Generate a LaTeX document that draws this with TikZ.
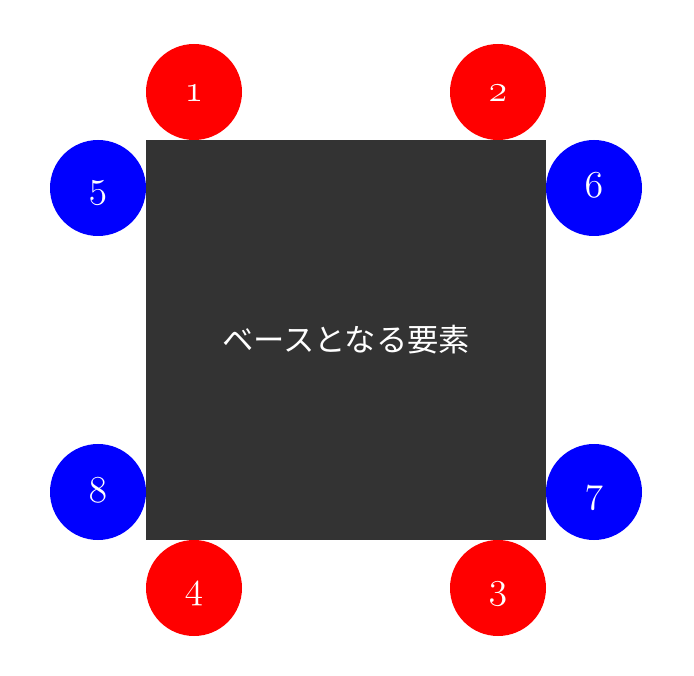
\RequirePackage{fix-cm}
\documentclass[tikz,border=0pt]{standalone}
\usepackage{fontspec}
\newfontfamily\jpfont{Noto Sans CJK JP}
\definecolor{basegray}{HTML}{333333}
\newcommand\ziffer[1]{{\fontencoding{OML}\fontfamily{cmm}\fontseries{m}\fontshape{it}\selectfont #1}}

\begin{document}
\begin{tikzpicture}[x=1pt, y=-1pt,
		marker/.style={circle, minimum size=96pt, inner sep=0pt, text=white,
			text height=20pt, text depth=0pt, font=\fontsize{38}{38}\selectfont},
		ecke/.style={marker, fill=red},
		seite/.style={marker, fill=blue}]
	\useasboundingbox (0,0) rectangle (694,676);

	% Basiselement
	\node[fill=basegray, minimum size=400pt, inner sep=0pt, text=white,
		font=\jpfont\fontsize{31.3}{31.3}\selectfont] (base) at (346,340) {ベースとなる要素};

	% rote Kreise (oben/unten)
	\node[ecke] (m1) at (194,92) {\ziffer{1}};
	\node[ecke] (m2) at (498,92) {\ziffer{2}};
	\node[ecke] (m3) at (498,588) {\ziffer{3}};
	\node[ecke] (m4) at (194,588) {\ziffer{4}};

	% blaue Kreise (links/rechts)
	\node[seite] (m5) at (98,188) {\ziffer{5}};
	\node[seite] (m6) at (594,188) {\ziffer{6}};
	\node[seite] (m7) at (594,492) {\ziffer{7}};
	\node[seite] (m8) at (98,492) {\ziffer{8}};

\end{tikzpicture}
\end{document}
